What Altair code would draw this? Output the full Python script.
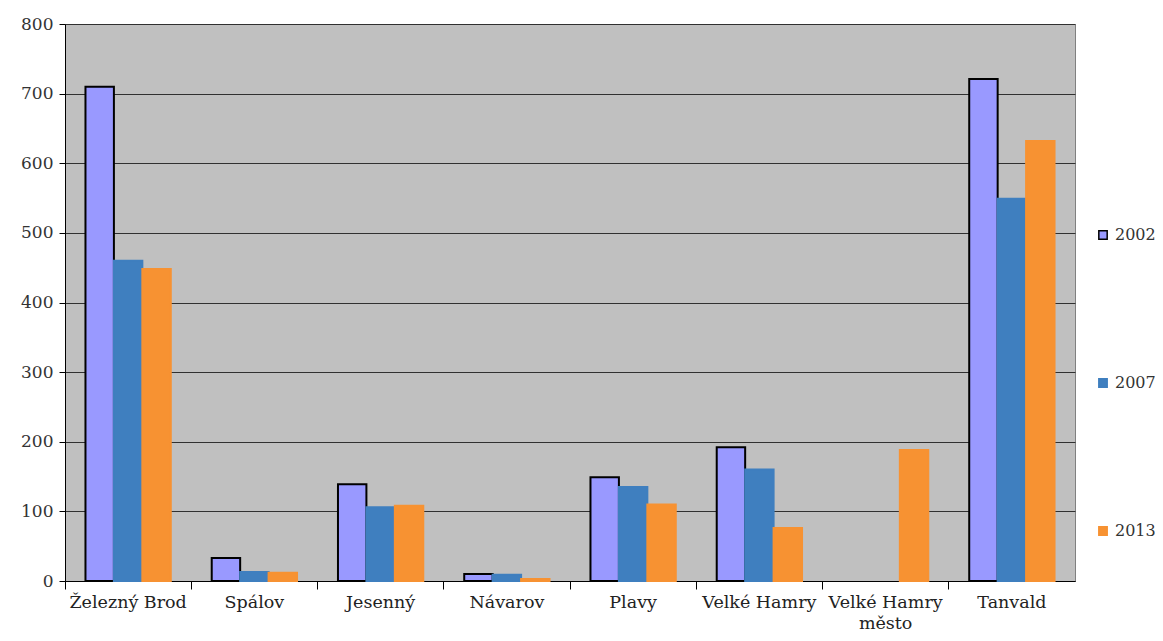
import altair as alt
import pandas as pd

categories = ["Železný Brod", "Spálov", "Jesenný", "Návarov", "Plavy",
              "Velké Hamry", "Velké Hamry město", "Tanvald"]
category_labels = ["Železný Brod", "Spálov", "Jesenný", "Návarov", "Plavy",
                   "Velké Hamry", "Velké Hamry\nměsto", "Tanvald"]
years = ["2002", "2007", "2013"]
v2002 = [710, 33, 139, 10, 149, 192, None, 721]
v2007 = [460, 13, 106, 9, 135, 160, None, 549]
v2013 = [448, 12, 108, 3, 110, 76, 188, 632]

rows = []
for series, vals in zip(years, [v2002, v2007, v2013]):
    for c, v in zip(categories, vals):
        if v is not None:
            rows.append({"obec": c, "rok": series, "hodnota": v})
df = pd.DataFrame(rows)
lab = pd.DataFrame({"obec": categories, "popis": category_labels})

colors = ["#9999FF", "#3F7FBF", "#F79232"]
strokes = ["#000000", "#3F7FBF", "#F79232"]

font = "DejaVu Serif"
H = 557

legend = alt.Legend(orient="none", legendX=1030, legendY=203,
                    symbolType="square", symbolSize=70,
                    labelFont=font, labelFontSize=16,
                    labelColor="#333333", rowPadding=132,
                    symbolStrokeWidth=1.5)

xenc = alt.X("obec:N", sort=categories, title=None,
             scale=alt.Scale(paddingInner=0, paddingOuter=0),
             axis=alt.Axis(labels=False, bandPosition=0,
                           tickColor="#000000", tickSize=8, domainColor="#000000"))

bars = alt.Chart(df).mark_bar(strokeWidth=2).encode(
    x=xenc,
    xOffset=alt.XOffset("rok:N", sort=years,
                        scale=alt.Scale(paddingInner=0, paddingOuter=0.72)),
    y=alt.Y("hodnota:Q", title=None,
            scale=alt.Scale(domain=[0, 800]),
            axis=alt.Axis(values=[0, 100, 200, 300, 400, 500, 600, 700, 800],
                          labelFont=font, labelFontSize=17, labelColor="#333333",
                          tickColor="#000000", tickSize=6, domainColor="#000000",
                          gridColor="#303030", gridWidth=1, labelPadding=6)),
    color=alt.Color("rok:N", sort=years, title=None,
                    scale=alt.Scale(domain=years, range=colors),
                    legend=legend),
    stroke=alt.Stroke("rok:N", sort=years, title=None,
                      scale=alt.Scale(domain=years, range=strokes),
                      legend=legend),
)

labels = alt.Chart(lab).mark_text(
    font=font, fontSize=17.5, color="#222222", baseline="top",
    lineBreak="\n", lineHeight=21
).encode(
    x=alt.X("obec:N", sort=categories),
    y=alt.value(H + 13),
    text="popis:N",
)

chart = alt.layer(bars, labels).properties(
    width=1010, height=H,
    padding={"left": 57, "top": 16, "right": 80, "bottom": 60},
    autosize=alt.AutoSizeParams(type="none"),
    background="white",
).configure_view(
    fill="#C0C0C0", stroke="#808080", strokeWidth=1
)

chart.save("out.html", embed_options={"renderer": "svg", "actions": False})
